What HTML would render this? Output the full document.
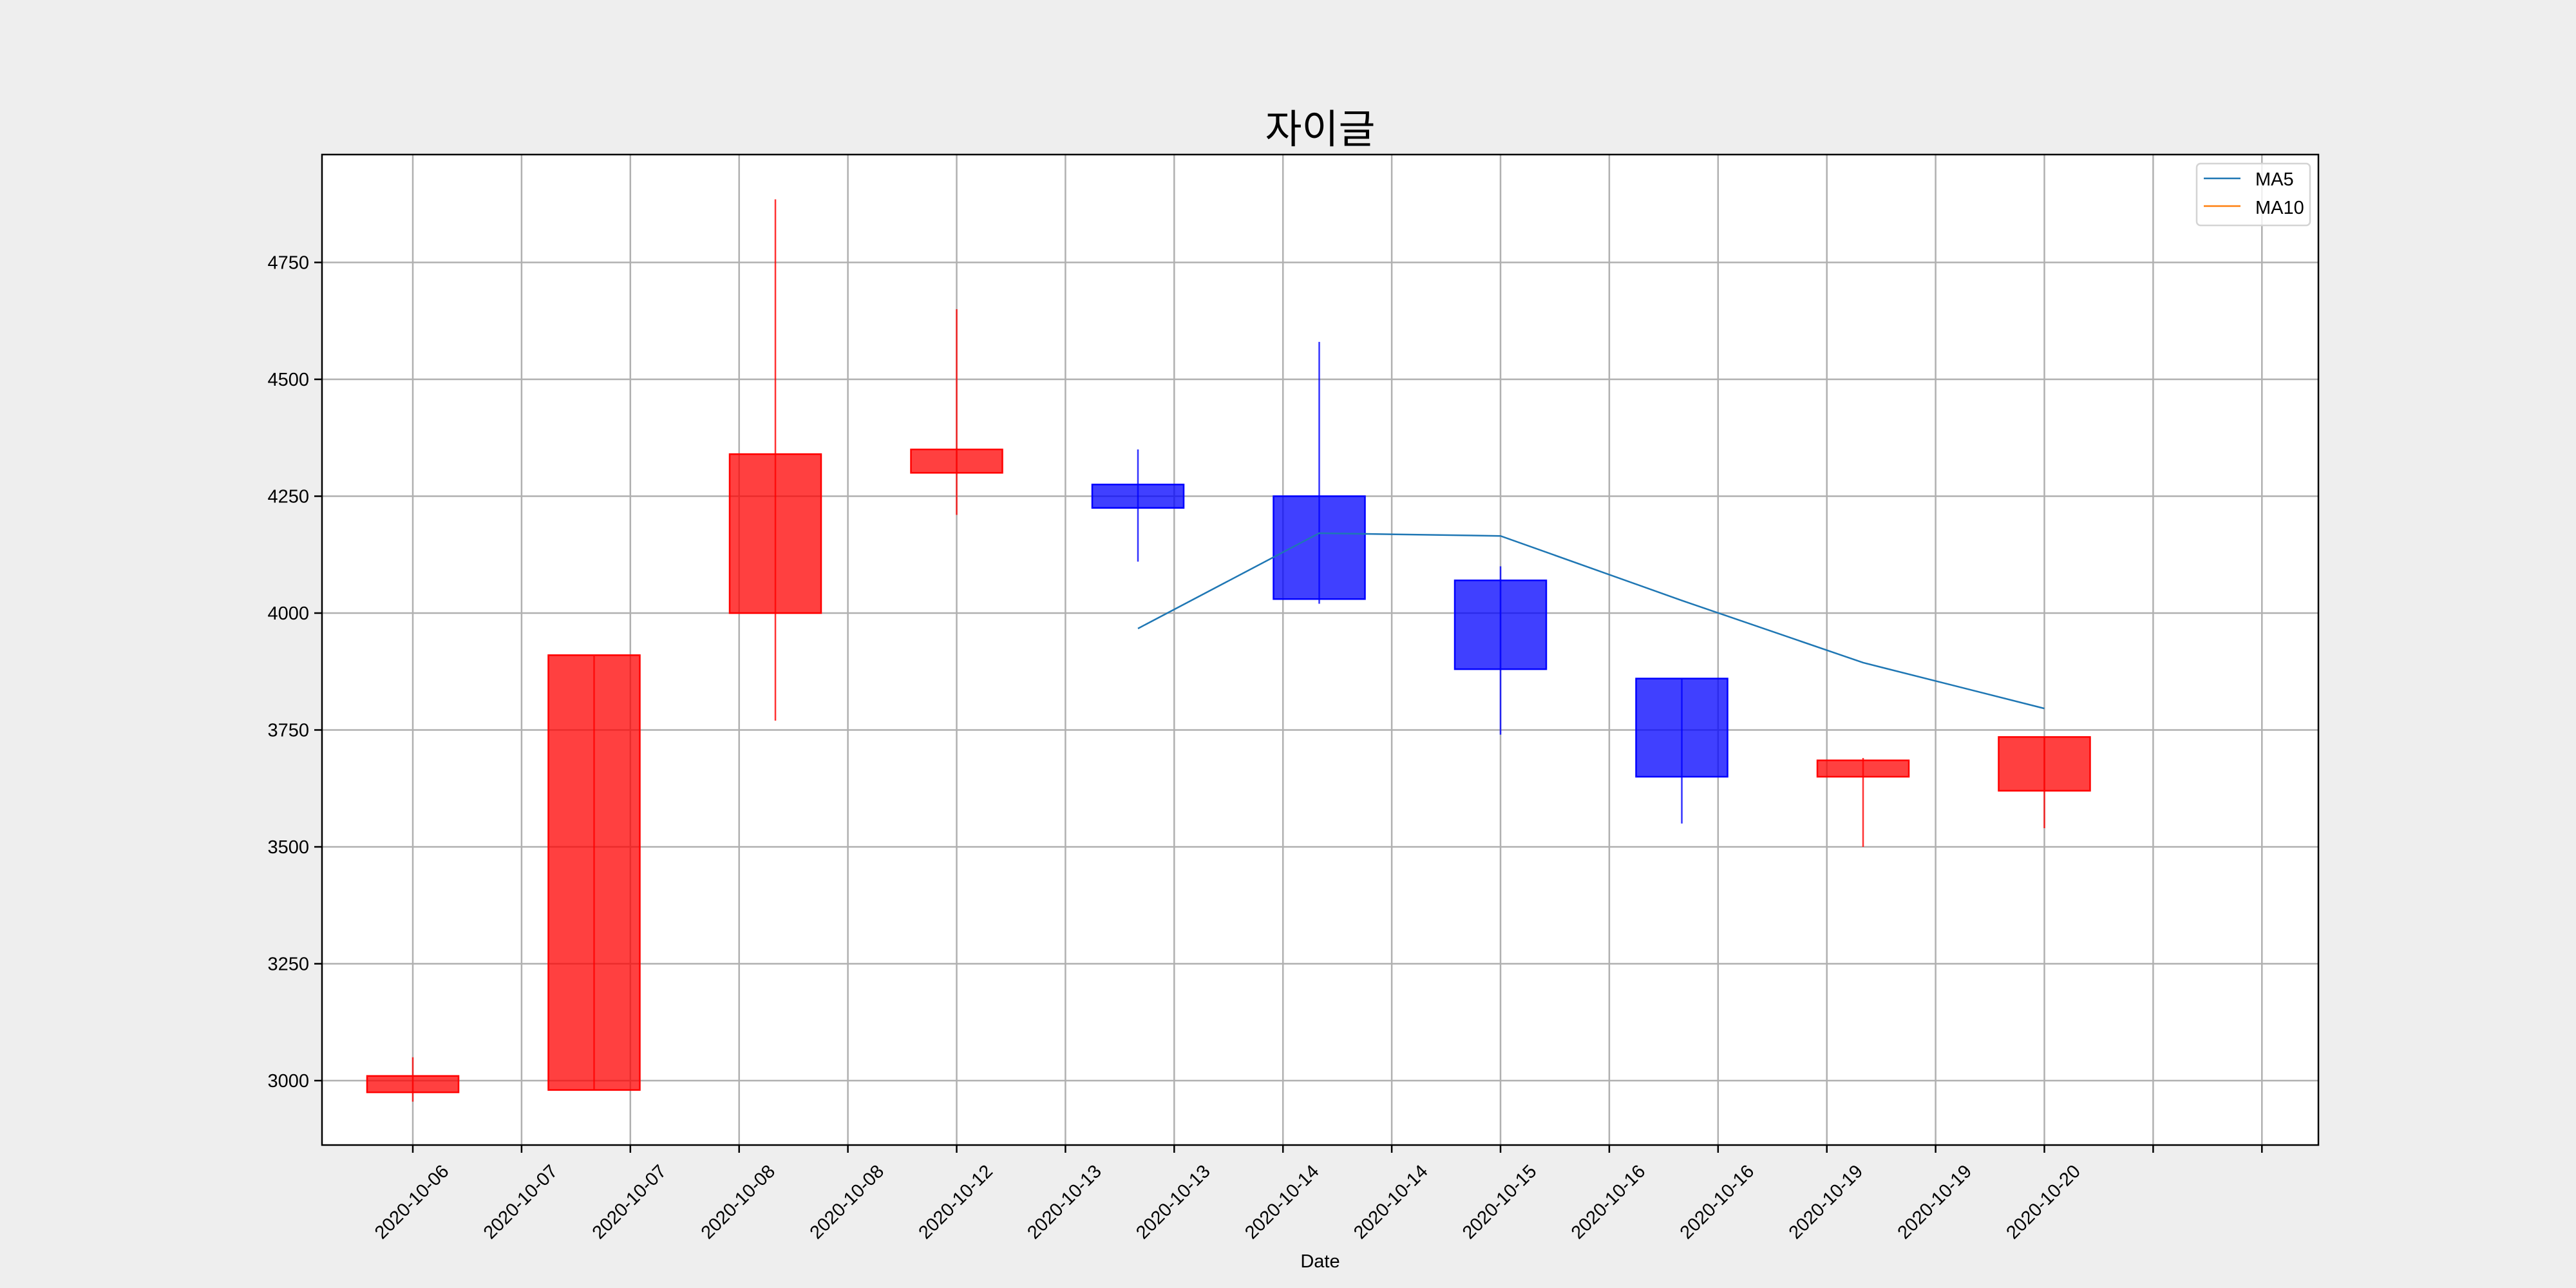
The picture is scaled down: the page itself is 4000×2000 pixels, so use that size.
<!DOCTYPE html>
<html><head><meta charset="utf-8"><style>
html,body{margin:0;padding:0;background:#eeeeee;}
svg{display:block;font-family:"Liberation Sans","Noto Sans CJK KR",sans-serif;}
</style></head>
<body>
<svg id="chart" width="4000" height="2000" viewBox="0 0 4000 2000" xmlns="http://www.w3.org/2000/svg">
<rect x="0" y="0" width="4000" height="2000" fill="#eeeeee"/>
<rect x="500" y="240" width="3100" height="1538" fill="#ffffff"/>
<g id="grid"></g>
<g id="candles"></g>
<g id="ma"></g>
<rect x="500" y="240" width="3100" height="1538" fill="none" stroke="#000" stroke-width="2.5"/>
<g id="axes"></g>
<text x="2050" y="222" font-size="62" text-anchor="middle" fill="#000">자이글</text>
<text x="2050" y="1968" font-size="29" text-anchor="middle" fill="#000">Date</text>
<g>
<rect x="3411" y="254" width="176" height="96" rx="6" fill="#fff" fill-opacity="0.8" stroke="#d4d4d4" stroke-width="2.5"/>
<line x1="3422" y1="277" x2="3479" y2="277" stroke="#1f77b4" stroke-width="2.5"/>
<text x="3502" y="288" font-size="29" fill="#000">MA5</text>
<line x1="3422" y1="320" x2="3479" y2="320" stroke="#ff7f0e" stroke-width="2.5"/>
<text x="3502" y="332" font-size="29" fill="#000">MA10</text>
</g>
</svg>
<script>
const opens  = [2975, 2980, 4000, 4300, 4275, 4250, 4070, 3860, 3650, 3620];
const highs  = [3050, 3910, 4885, 4650, 4350, 4580, 4100, 3860, 3690, 3735];
const lows   = [2955, 2980, 3770, 4210, 4110, 4020, 3740, 3550, 3500, 3540];
const closes = [3010, 3910, 4340, 4350, 4225, 4030, 3880, 3650, 3685, 3735];
const ma5    = [null, null, null, null, 3967, 4171, 4165, 4027, 3894, 3796];
const yTicks = [3000, 3250, 3500, 3750, 4000, 4250, 4500, 4750];
const xTickLabels = ["2020-10-06","2020-10-07","2020-10-07","2020-10-08","2020-10-08","2020-10-12","2020-10-13","2020-10-13","2020-10-14","2020-10-14","2020-10-15","2020-10-16","2020-10-16","2020-10-19","2020-10-19","2020-10-20","",""];

const NS = "http://www.w3.org/2000/svg";
function yS(v){ return 952 - (v - 4000) * 0.726; }
function xC(i){ return 641 + 281.5 * i; }     // candle index -> px
function xT(j){ return 641 + 168.9 * j; }     // tick index -> px
function mk(tag, attrs, parent){
  const e = document.createElementNS(NS, tag);
  for (const k in attrs) e.setAttribute(k, attrs[k]);
  parent.appendChild(e);
  return e;
}
const grid = document.getElementById('grid');
const axes = document.getElementById('axes');
yTicks.forEach(v => {
  const y = yS(v);
  const g = mk('line', {x1:500, x2:3600, y1:y, y2:y, stroke:'#b0b0b0', 'stroke-width':2.5}, grid);
  
  
  const t = mk('line', {x1:488, x2:500, y1:y, y2:y, stroke:'#000', 'stroke-width':2.5}, axes);
  
  
  const l = mk('text', {x:480, y:y+10, 'font-size':29, 'text-anchor':'end', fill:'#000'}, axes);
  l.textContent = v;
  
  
});
xTickLabels.forEach((lab, j) => {
  const x = xT(j);
  const g = mk('line', {x1:x, x2:x, y1:240, y2:1778, stroke:'#b0b0b0', 'stroke-width':2.5}, grid);
  
  
  const t = mk('line', {x1:x, x2:x, y1:1778, y2:1790, stroke:'#000', 'stroke-width':2.5}, axes);
  
  
  if (lab) {
    const l = mk('text', {x:x-2, y:1876, 'font-size':29, 'text-anchor':'middle', fill:'#000', transform:'rotate(-45 '+(x-2)+' 1866)'}, axes);
    l.textContent = lab;
    
    
  }
});
const cg = document.getElementById('candles');
opens.forEach((o, i) => {
  const c = closes[i];
  const up = c >= o;
  const fill = up ? 'rgba(255,0,0,0.75)' : 'rgba(0,0,255,0.75)';
  const stroke = up ? '#ff0000' : '#0000ff';
  const x = xC(i);
  const top = yS(Math.max(o, c)), bot = yS(Math.min(o, c));
  const b = mk('rect', {x:x-71, y:top, width:142, height:Math.max(bot-top,1), fill:fill, stroke:stroke, 'stroke-width':2.5}, cg);
  
  
  const w = mk('line', {x1:x, x2:x, y1:yS(highs[i]), y2:yS(lows[i]), stroke:stroke, 'stroke-width':2.5, 'stroke-opacity':0.8}, cg);
  
  
});
const pts = [];
ma5.forEach((v, i) => { if (v !== null) pts.push(xC(i) + ',' + yS(v)); });
const ml = mk('polyline', {points:pts.join(' '), fill:'none', stroke:'#1f77b4', 'stroke-width':2.5}, document.getElementById('ma'));


</script>
</body></html>
